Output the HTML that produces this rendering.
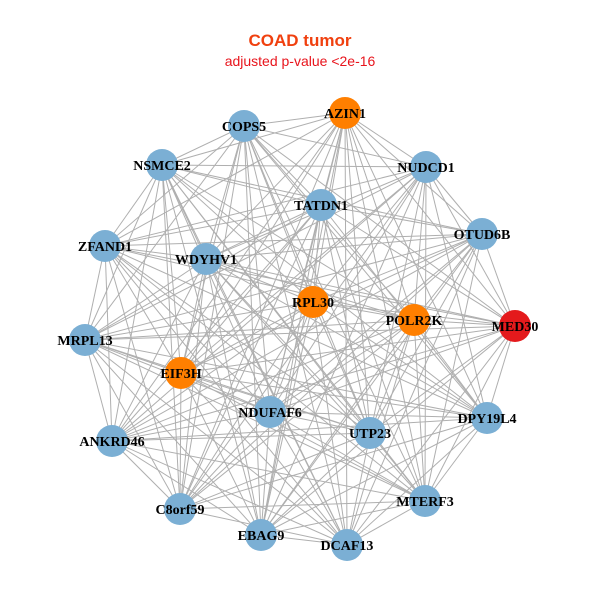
<!DOCTYPE html>
<html><head><meta charset="utf-8"><style>
html,body{margin:0;padding:0;background:#fff;}
svg{display:block;}
.l{font-family:"Liberation Serif",serif;font-weight:bold;font-size:14px;fill:#000;text-anchor:middle;}
</style></head><body>
<svg id="s" width="600" height="600" xmlns="http://www.w3.org/2000/svg">
<rect width="600" height="600" fill="#fff"/>
<text x="300" y="46" text-anchor="middle" font-family="Liberation Sans,sans-serif" font-weight="bold" font-size="17" fill="#F0400F">COAD tumor</text>
<text x="300" y="66" text-anchor="middle" font-family="Liberation Sans,sans-serif" font-size="14" fill="#E8141C">adjusted p-value &lt;2e-16</text>
<g id="e" stroke="#AFAFAF" stroke-width="1"></g>
<g id="n"></g>
</svg>
<script>
var N=[["AZIN1",345,113,"#FF7F00"],["COPS5",244,126,"#7BAFD4"],["NSMCE2",162,165,"#7BAFD4"],["NUDCD1",426,167,"#7BAFD4"],["TATDN1",321,205,"#7BAFD4"],["OTUD6B",482,234,"#7BAFD4"],["ZFAND1",105,246,"#7BAFD4"],["WDYHV1",206,259,"#7BAFD4"],["RPL30",313,302,"#FF7F00"],["POLR2K",414,320,"#FF7F00"],["MED30",515,326,"#E41A1C"],["MRPL13",85,340,"#7BAFD4"],["EIF3H",181,373,"#FF7F00"],["NDUFAF6",270,412,"#7BAFD4"],["DPY19L4",487,418,"#7BAFD4"],["UTP23",370,433,"#7BAFD4"],["ANKRD46",112,441,"#7BAFD4"],["C8orf59",180,509,"#7BAFD4"],["MTERF3",425,501,"#7BAFD4"],["EBAG9",261,535,"#7BAFD4"],["DCAF13",347,545,"#7BAFD4"]];
var ns="http://www.w3.org/2000/svg",e=document.getElementById("e"),g=document.getElementById("n");
for(var i=0;i<N.length;i++)for(var j=i+1;j<N.length;j++){if((i*7+j*3)%11==0)continue;var l=document.createElementNS(ns,"line");l.setAttribute("x1",N[i][1]);l.setAttribute("y1",N[i][2]);l.setAttribute("x2",N[j][1]);l.setAttribute("y2",N[j][2]);e.appendChild(l);}
N.forEach(function(d){var c=document.createElementNS(ns,"circle");c.setAttribute("cx",d[1]);c.setAttribute("cy",d[2]);c.setAttribute("r",16);c.setAttribute("fill",d[3]);g.appendChild(c);});
N.forEach(function(d){var t=document.createElementNS(ns,"text");t.setAttribute("x",d[1]);t.setAttribute("y",d[2]+5);t.setAttribute("class","l");t.textContent=d[0];g.appendChild(t);});
</script>
</body></html>
